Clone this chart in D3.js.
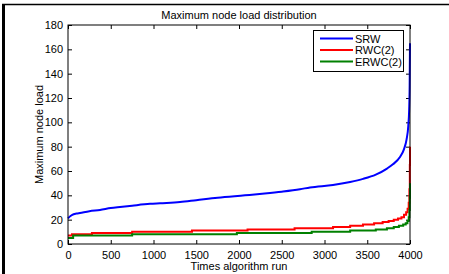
<!DOCTYPE html>
<html>
<head>
<meta charset="utf-8">
<script src="https://cdn.jsdelivr.net/npm/d3@7"></script>
<style>
  body { margin: 0; background: #fff; }
  text { font-family: "Liberation Sans", Arial, sans-serif; fill: #000; }
</style>
</head>
<body>
<div id="chart"></div>
<script>
// data (sorted runs, so roughly monotone)
const srwRuns  = [0, 20, 50, 100, 140, 250, 374, 500, 608, 750, 959, 1076, 1310, 1500, 1750, 2070, 2300, 2500, 2713, 2830, 3099, 3300, 3450, 3600, 3731, 3800, 3883, 3930, 3960, 3980, 3990, 3996, 4000]
const srwLoad  = [21, 22.5, 24, 25, 25.5, 27, 28, 29.5, 30.4, 31.5, 33, 33.5, 34.5, 36, 38, 40, 41.5, 43, 45, 46.5, 48.5, 51, 53.5, 57, 62, 65.5, 71.5, 78, 86, 97, 110, 130, 165]
const rwcRuns  = [0, 47, 280, 750, 1450, 2100, 2650, 3100, 3300, 3450, 3580, 3680, 3750, 3810, 3860, 3900, 3930, 3955, 3972, 3985, 3993, 3998, 4000]
const rwcLoad  = [7, 8, 9, 10, 11, 12, 13, 14, 15, 16, 17, 18, 19, 20, 21, 22, 24, 26, 29, 34, 45, 65, 80]
const erwcRuns = [0, 60, 750, 1975, 2850, 3300, 3600, 3730, 3810, 3870, 3920, 3950, 3970, 3985, 3993, 3998, 4000]
const erwcLoad = [5, 7, 8, 9, 10, 11, 12, 13, 14, 15, 16, 17, 19, 22, 28, 38, 50]

const seriesNames = ["SRW", "RWC(2)", "ERWC(2)"]
const seriesColors = ["#0000ff", "#ff0000", "#008000"]
const xTicks = [0, 500, 1000, 1500, 2000, 2500, 3000, 3500, 4000]
const yTicks = [0, 20, 40, 60, 80, 100, 120, 140, 160, 180]

function drawChart() {
  const width = 449
  const height = 274
  const left = 68, right = 410, top = 25, bottom = 244

  const svg = d3.select("#chart").append("svg")
      .attr("width", width)
      .attr("height", height)

  // outer figure frame
  svg.append("line").attr("x1", 2).attr("x2", width).attr("y1", 4.5).attr("y2", 4.5)
      .attr("stroke", "#000").attr("stroke-width", 1.5)
  svg.append("rect").attr("x", 2).attr("y", 4).attr("width", 3).attr("height", height - 4)
      .attr("fill", "#000")

  const x = d3.scaleLinear().domain([0, 4000]).range([left, right])
  const y = d3.scaleLinear().domain([0, 180]).range([bottom, top])

  // axes, ticks pointing inwards on all four sides
  const tickLen = 4
  svg.append("g").attr("transform", `translate(0,${bottom})`)
    .call(d3.axisBottom(x).tickValues(xTicks).tickSizeInner(-tickLen).tickSizeOuter(0)
      .tickPadding(7).tickFormat(d3.format("d")))
  svg.append("g").attr("transform", `translate(0,${top})`)
    .call(d3.axisTop(x).tickValues(xTicks).tickSizeInner(-tickLen).tickSizeOuter(0).tickFormat(""))
  svg.append("g").attr("transform", `translate(${left},0)`)
    .call(d3.axisLeft(y).tickValues(yTicks).tickSizeInner(-tickLen).tickSizeOuter(0).tickPadding(5))
  svg.append("g").attr("transform", `translate(${right},0)`)
    .call(d3.axisRight(y).tickValues(yTicks).tickSizeInner(-tickLen).tickSizeOuter(0).tickFormat(""))

  svg.selectAll(".domain").remove()
  svg.selectAll(".tick text").style("font-size", "11px").attr("font-family", null)
  svg.selectAll(".tick line").attr("stroke", "#000")

  const all = [
    { runs: srwRuns, load: srwLoad, curve: d3.curveMonotoneX },
    { runs: rwcRuns, load: rwcLoad, curve: d3.curveStepAfter },
    { runs: erwcRuns, load: erwcLoad, curve: d3.curveStepAfter }
  ]

  const plot = svg.append("g")
  all.forEach((s, i) => {
    const line = d3.line()
        .x(d => x(d[0]))
        .y(d => y(d[1]))
        .curve(s.curve)
    plot.append("path")
        .datum(s.runs.map((r, j) => [r, s.load[j]]))
        .attr("d", line)
        .attr("fill", "none")
        .attr("stroke", seriesColors[i])
        .attr("stroke-width", 2)
  })

  // plot box
  svg.append("rect")
      .attr("x", left).attr("y", top)
      .attr("width", right - left).attr("height", bottom - top)
      .attr("fill", "none").attr("stroke", "#000").attr("stroke-width", 1)

  // legend
  const legend = svg.append("g")
  legend.append("rect")
      .attr("x", 313.5).attr("y", 30.5).attr("width", 90).attr("height", 41)
      .attr("fill", "#fff").attr("stroke", "#000")
  seriesNames.forEach((name, i) => {
    const ly = 38.5 + i * 11.5
    legend.append("line")
        .attr("x1", 320).attr("x2", 353).attr("y1", ly).attr("y2", ly)
        .attr("stroke", seriesColors[i]).attr("stroke-width", 2)
    legend.append("text")
        .attr("x", 355).attr("y", ly + 4)
        .style("font-size", "11px")
        .text(name)
  })

  // titles
  svg.append("text")
      .attr("x", (left + right) / 2).attr("y", 19)
      .attr("text-anchor", "middle")
      .style("font-size", "11px")
      .text("Maximum node load distribution")
  svg.append("text")
      .attr("x", (left + right) / 2).attr("y", 270)
      .attr("text-anchor", "middle")
      .style("font-size", "11px")
      .text("Times algorithm run")
  svg.append("text")
      .attr("transform", `translate(43,${(top + bottom) / 2}) rotate(-90)`)
      .attr("text-anchor", "middle")
      .style("font-size", "11px")
      .text("Maximum node load")
}

window.onload = function () {
  drawChart()
}
</script>
</body>
</html>
